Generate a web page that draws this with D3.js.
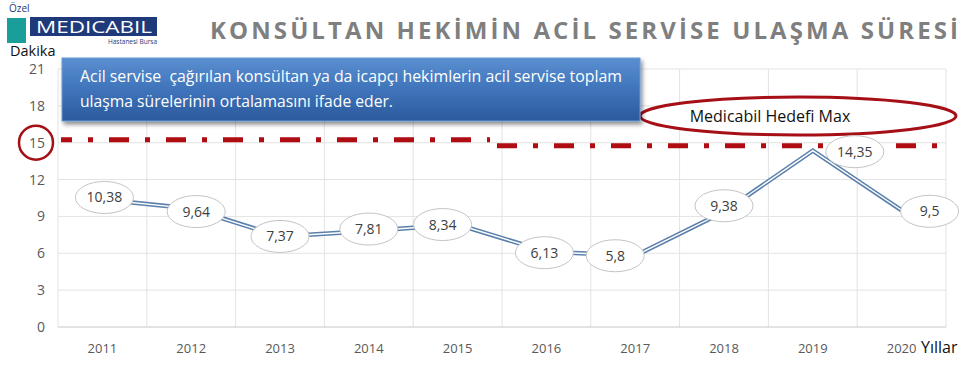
<!DOCTYPE html>
<html>
<head>
<meta charset="utf-8">
<script src="https://cdn.jsdelivr.net/npm/d3@7"></script>
<style>
  body { margin: 0; background: #fff; }
  svg { display: block; font-family: "Open Sans", "DejaVu Sans", sans-serif; }
</style>
</head>
<body>
<div id="chart"></div>
<script>
const years = ["2011", "2012", "2013", "2014", "2015", "2016", "2017", "2018", "2019", "2020"];
const values = [10.38, 9.64, 7.37, 7.81, 8.34, 6.13, 5.8, 9.38, 14.35, 9.5];
const labels = ["10,38", "9,64", "7,37", "7,81", "8,34", "6,13", "5,8", "9,38", "14,35", "9,5"];
const yTicks = [0, 3, 6, 9, 12, 15, 18, 21];
const target = 15;

const W = 971, H = 370;
const svg = d3.select("#chart").append("svg").attr("width", W).attr("height", H);

const x = d3.scaleBand().domain(years).range([58, 946]);
const y = d3.scaleLinear().domain([0, 21]).range([327, 69]);

// logo
svg.append("text").attr("x", 9).attr("y", 12).text("Özel")
  .style("font-size", "10px").style("fill", "#1f3a7a");
svg.append("rect").attr("x", 7).attr("y", 18).attr("width", 19).attr("height", 25).attr("fill", "#1a9e9a");
svg.append("rect").attr("x", 30).attr("y", 17).attr("width", 127).attr("height", 19).attr("fill", "#1f3a7a");
svg.append("text").attr("x", 94).attr("y", 33).attr("text-anchor", "middle").text("MEDICABIL")
  .style("font-size", "17px").style("fill", "#fff")
  .attr("textLength", 116).attr("lengthAdjust", "spacingAndGlyphs");
svg.append("text").attr("x", 157).attr("y", 44).attr("text-anchor", "end").text("Hastanesi Bursa")
  .style("font-size", "6.5px").style("fill", "#1f3a7a");

// title
svg.append("text").attr("x", 210).attr("y", 39)
  .text("KONSÜLTAN HEKİMİN ACİL SERVİSE ULAŞMA SÜRESİ")
  .attr("textLength", 748).attr("lengthAdjust", "spacing")
  .style("font-size", "24px").style("font-weight", "bold").style("fill", "#7f7f7f");

// grid
svg.append("g").selectAll("line").data(yTicks.slice(1)).enter().append("line")
  .attr("x1", 58).attr("x2", 946)
  .attr("y1", d => y(d)).attr("y2", d => y(d))
  .attr("stroke", "#e3e3e3");
svg.append("g").selectAll("line").data(years).enter().append("line")
  .attr("x1", d => x(d)).attr("x2", d => x(d))
  .attr("y1", y(21)).attr("y2", y(0))
  .attr("stroke", "#e3e3e3");
svg.append("line").attr("x1", 946).attr("x2", 946).attr("y1", y(21)).attr("y2", y(0)).attr("stroke", "#e3e3e3");
svg.append("line").attr("x1", 58).attr("x2", 946).attr("y1", y(0)).attr("y2", y(0)).attr("stroke", "#c8c8c8");

// y ticks
svg.append("g").selectAll("text").data(yTicks).enter().append("text")
  .attr("x", 45).attr("y", d => y(d) + 5).attr("text-anchor", "end")
  .text(d => d).style("font-size", "14px").style("fill", "#595959");
svg.append("text").attr("x", 10).attr("y", 56).text("Dakika").style("font-size", "14.5px").style("fill", "#111");

// x ticks
svg.append("g").selectAll("text").data(years).enter().append("text")
  .attr("x", d => x(d) + x.bandwidth() / 2).attr("y", 353).attr("text-anchor", "middle")
  .text(d => d).style("font-size", "13px").style("fill", "#595959");
svg.append("text").attr("x", 921).attr("y", 353).text("Yıllar").style("font-size", "16px").style("fill", "#111");

// target ellipse (behind the note box)
svg.append("ellipse").attr("cx", 798).attr("cy", 116).attr("rx", 158).attr("ry", 19)
  .attr("fill", "#fff").attr("stroke", "#a50f15").attr("stroke-width", 3);
svg.append("text").attr("x", 770).attr("y", 122).attr("text-anchor", "middle")
  .text("Medicabil Hedefi Max").style("font-size", "16px").style("fill", "#111");

// target line, drawn in two offset pieces as in the original
const targetSegs = [
  {x1: 61, x2: 490, dy: -3, off: 9},
  {x1: 497, x2: 946, dy: 3, off: 0}
];
svg.append("g").selectAll("line").data(targetSegs).enter().append("line")
  .attr("x1", d => d.x1).attr("x2", d => d.x2)
  .attr("y1", d => y(target) + d.dy).attr("y2", d => y(target) + d.dy)
  .attr("stroke", "#b00d12").attr("stroke-width", 5)
  .attr("stroke-dasharray", "20,16,5,16").attr("stroke-dashoffset", d => d.off);
svg.append("circle").attr("cx", 36).attr("cy", y(target)).attr("r", 17)
  .attr("fill", "none").attr("stroke", "#a50f15").attr("stroke-width", 2.5);

// note box
const defs = svg.append("defs");
const grad = defs.append("linearGradient").attr("id", "boxg").attr("x1", 0).attr("y1", 0).attr("x2", 0).attr("y2", 1);
grad.append("stop").attr("offset", "0%").attr("stop-color", "#5a8fd0");
grad.append("stop").attr("offset", "50%").attr("stop-color", "#3f74bb");
grad.append("stop").attr("offset", "100%").attr("stop-color", "#2b5a9c");
const shadow = defs.append("filter").attr("id", "shd").attr("x", "-10%").attr("y", "-20%").attr("width", "120%").attr("height", "150%");
shadow.append("feDropShadow").attr("dx", 2).attr("dy", 3).attr("stdDeviation", 2).attr("flood-color", "#000").attr("flood-opacity", 0.45);
svg.append("rect").attr("x", 62).attr("y", 58).attr("width", 578).attr("height", 63)
  .attr("fill", "url(#boxg)").attr("stroke", "#6a9ad6").attr("stroke-width", 1)
  .attr("filter", "url(#shd)");
svg.append("text").attr("x", 80).attr("y", 82)
  .text("Acil servise  çağırılan konsültan ya da icapçı hekimlerin acil servise toplam")
  .attr("textLength", 542).attr("lengthAdjust", "spacingAndGlyphs")
  .style("font-size", "16px").style("fill", "#fff").style("white-space", "pre");
svg.append("text").attr("x", 80).attr("y", 107)
  .text("ulaşma sürelerinin ortalamasını ifade eder.")
  .attr("textLength", 313).attr("lengthAdjust", "spacingAndGlyphs")
  .style("font-size", "16px").style("fill", "#fff");

// series line, double stroke
const pts = years.map((yr, i) => ({yr, v: values[i], lab: labels[i]}));
const line = d3.line().x(d => x(d.yr) + x.bandwidth() / 2).y(d => y(d.v));
svg.append("path").datum(pts).attr("d", line).attr("fill", "none")
  .attr("stroke", "#5b80ab").attr("stroke-width", 4.5);
svg.append("path").datum(pts).attr("d", line).attr("fill", "none")
  .attr("stroke", "#fff").attr("stroke-width", 1.4);

// data labels
const labDx = [2, 5, 0, 0, -15, -2, -20, 0, 42, 28];
const labDy = [-2, 3, 0, -2, 0, 1, 0, -6, 1, 1];
const lab = svg.append("g").selectAll("g").data(pts).enter().append("g")
  .attr("transform", (d, i) => `translate(${x(d.yr) + x.bandwidth() / 2 + labDx[i]},${y(d.v) + labDy[i]})`);
lab.append("ellipse").attr("rx", 29).attr("ry", 16)
  .attr("fill", "#fff").attr("stroke", "#c4c4c4").attr("stroke-width", 1);
lab.append("text").attr("y", 5).attr("text-anchor", "middle").text(d => d.lab)
  .style("font-size", "14px").style("fill", "#404040");
</script>
</body>
</html>
